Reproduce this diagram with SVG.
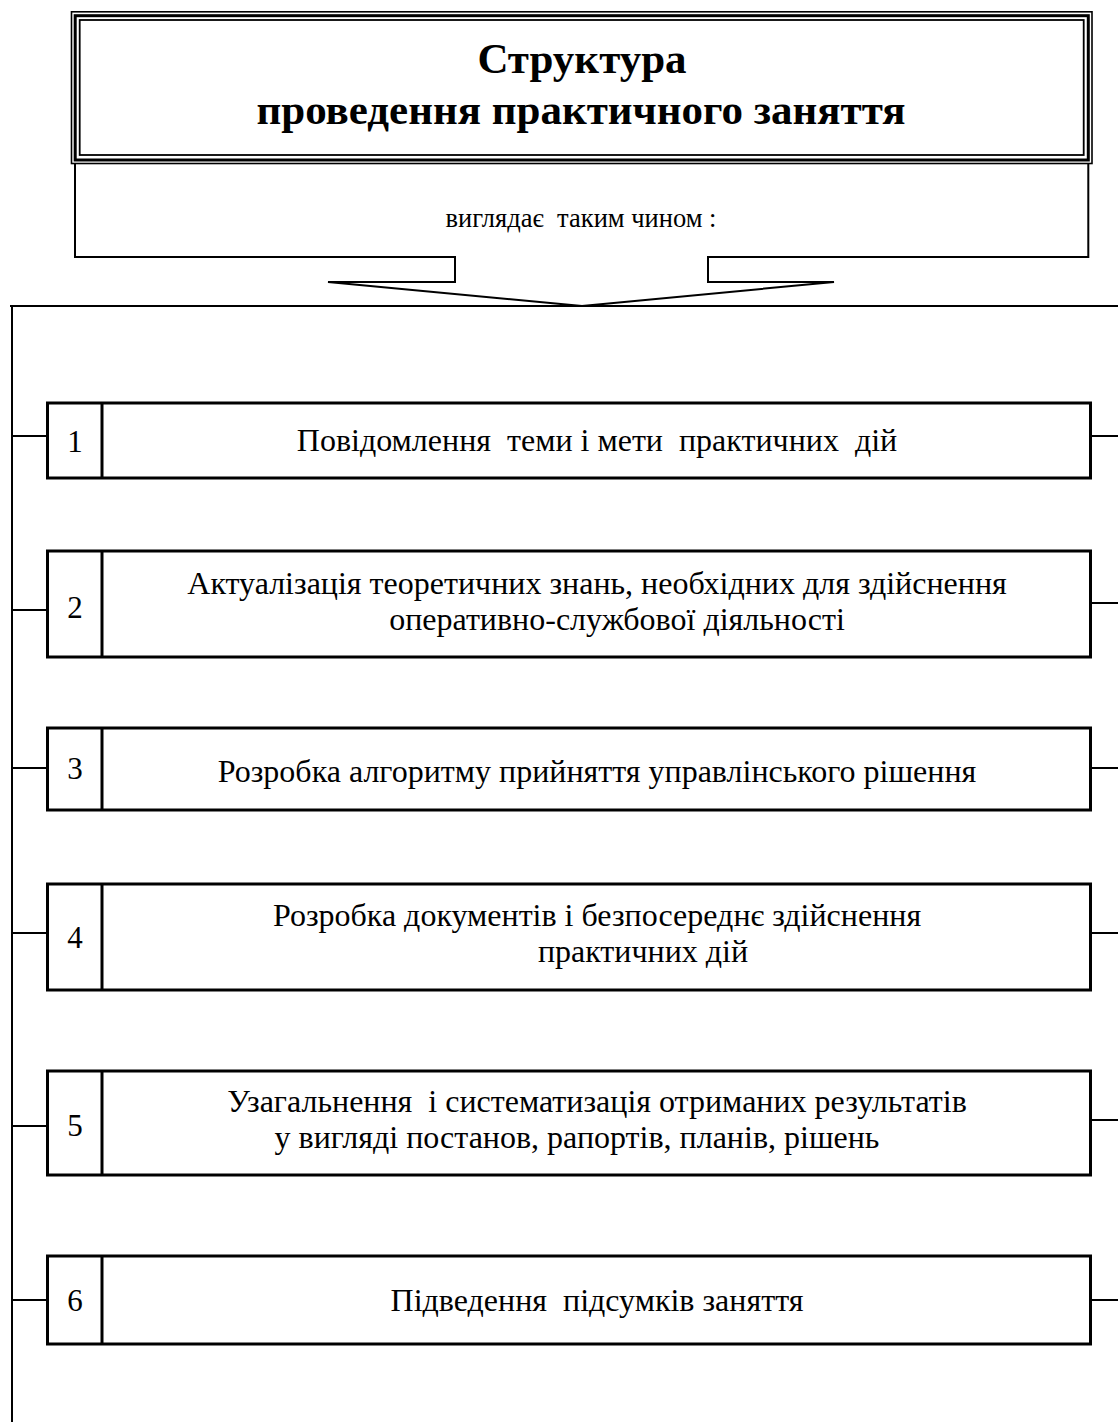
<svg xmlns="http://www.w3.org/2000/svg" width="1118" height="1422" viewBox="0 0 1118 1422">
<style>
text{font-family:"Liberation Serif","Times New Roman",serif;fill:#000;white-space:pre}
.t{font-size:43px;font-weight:bold;text-anchor:middle}
.s{font-size:26.5px;text-anchor:middle}
.b{font-size:32px;text-anchor:middle}
.n{font-size:31px;text-anchor:middle}
.box{fill:#fff;stroke:#000;stroke-width:3}
.ln{fill:none;stroke:#000;stroke-width:2}
</style>
<rect width="1118" height="1422" fill="#fff"/>
<g id="title">
<rect x="71.5" y="11.8" width="1020.5" height="151.7" fill="#fff" stroke="#000" stroke-width="1.6"/>
<rect x="75.2" y="15.7" width="1013.1" height="144.3" fill="none" stroke="#000" stroke-width="3"/>
<rect x="79.7" y="20" width="1004" height="135" fill="none" stroke="#000" stroke-width="1.8"/>
<text class="t" x="582" y="73">Структура</text>
<text class="t" x="581" y="124">проведення практичного заняття</text>
</g>
<g id="callout">
<path class="ln" d="M75,163.5 V257 H455 V282 H328 L582,306 L834,282 H708 V257 H1088.3 V163.5"/>
<text class="s" x="581" y="227">виглядає  таким чином :</text>
</g>
<g id="connectors">
<path class="ln" d="M10,306 H1118 M12,306 V1422"/>
<path class="ln" d="M12,436 H47 M1091,436 H1118"/>
<path class="ln" d="M12,610 H47 M1091,603 H1118"/>
<path class="ln" d="M12,768 H47 M1091,768 H1118"/>
<path class="ln" d="M12,933 H47 M1091,933 H1118"/>
<path class="ln" d="M12,1126 H47 M1091,1120 H1118"/>
<path class="ln" d="M12,1300 H47 M1091,1300 H1118"/>
</g>
<g id="step1">
<rect class="box" x="47.5" y="403" width="1043" height="75"/>
<path class="box" d="M102,403 V478"/>
<text class="n" x="75" y="452">1</text>
<text class="b" x="597" y="451">Повідомлення  теми і мети  практичних  дій</text>
</g>
<g id="step2">
<rect class="box" x="47.5" y="551" width="1043" height="106"/>
<path class="box" d="M102,551 V657"/>
<text class="n" x="75" y="618">2</text>
<text class="b" x="597" y="594">Актуалізація теоретичних знань, необхідних для здійснення</text>
<text class="b" x="617" y="630">оперативно-службової діяльності</text>
</g>
<g id="step3">
<rect class="box" x="47.5" y="728" width="1043" height="82"/>
<path class="box" d="M102,728 V810"/>
<text class="n" x="75" y="779">3</text>
<text class="b" x="597" y="782">Розробка алгоритму прийняття управлінського рішення</text>
</g>
<g id="step4">
<rect class="box" x="47.5" y="884" width="1043" height="106"/>
<path class="box" d="M102,884 V990"/>
<text class="n" x="75" y="948">4</text>
<text class="b" x="597" y="926">Розробка документів і безпосереднє здійснення</text>
<text class="b" x="643" y="962">практичних дій</text>
</g>
<g id="step5">
<rect class="box" x="47.5" y="1071" width="1043" height="104"/>
<path class="box" d="M102,1071 V1175"/>
<text class="n" x="75" y="1136">5</text>
<text class="b" x="597" y="1112">Узагальнення  і систематизація отриманих результатів</text>
<text class="b" x="577" y="1148">у вигляді постанов, рапортів, планів, рішень</text>
</g>
<g id="step6">
<rect class="box" x="47.5" y="1256" width="1043" height="88"/>
<path class="box" d="M102,1256 V1344"/>
<text class="n" x="75" y="1311">6</text>
<text class="b" x="597" y="1311">Підведення  підсумків заняття</text>
</g>
</svg>
